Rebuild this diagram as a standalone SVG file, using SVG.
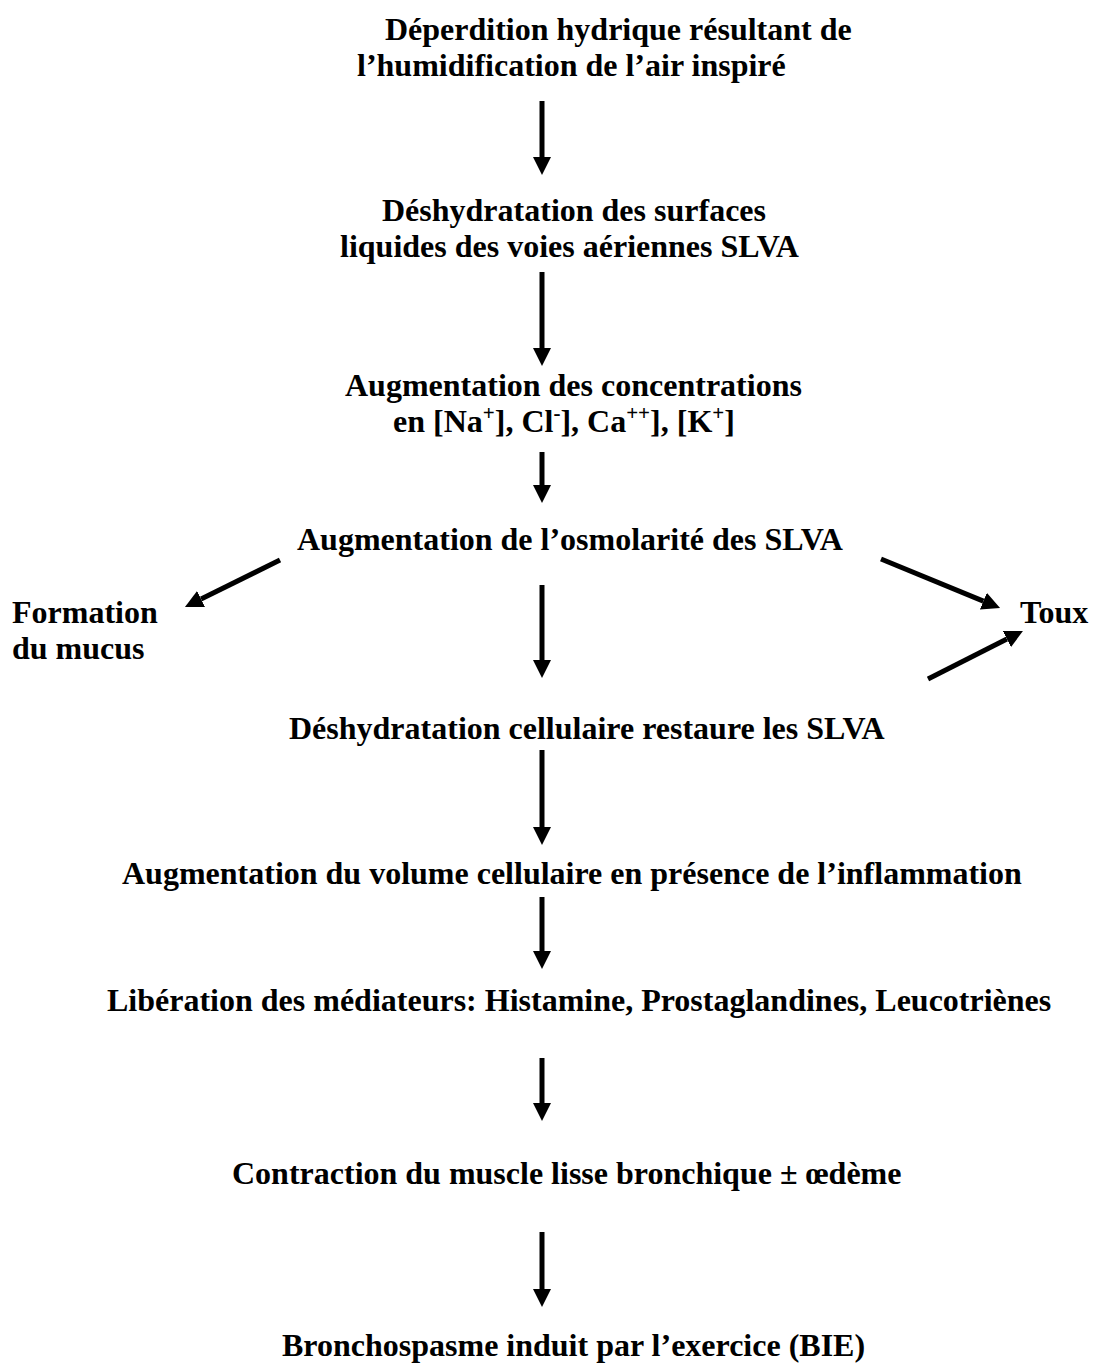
<svg xmlns="http://www.w3.org/2000/svg" width="1093" height="1372" viewBox="0 0 1093 1372">
<style>
text{font-family:"Liberation Serif","Times New Roman",serif;font-weight:bold;font-size:32px;fill:#000}
.sup{font-size:21px}
.c line{stroke:#000;stroke-width:5;marker-end:url(#ah)}
</style>
<defs>
<marker id="ah" markerUnits="userSpaceOnUse" markerWidth="18" markerHeight="18" refX="0" refY="9" orient="auto" viewBox="0 0 18 18">
<path d="M0,0 L18,9 L0,18 Z" fill="#000"/>
</marker>
</defs>
<rect width="1093" height="1372" fill="#fff"/>
<g id="n1"><text x="385" y="40">Déperdition hydrique résultant de</text><text x="357" y="76">l’humidification de l’air inspiré</text></g>
<g id="n2"><text x="382" y="221">Déshydratation des surfaces</text><text x="340" y="257">liquides des voies aériennes SLVA</text></g>
<g id="n3"><text x="345" y="396">Augmentation des concentrations</text><text x="393" y="432">en [Na<tspan class="sup" dy="-12">+</tspan><tspan dy="12">], Cl</tspan><tspan class="sup" dy="-12">-</tspan><tspan dy="12">], Ca</tspan><tspan class="sup" dy="-12">++</tspan><tspan dy="12">], [K</tspan><tspan class="sup" dy="-12">+</tspan><tspan dy="12">]</tspan></text></g>
<g id="n4"><text x="297" y="550">Augmentation de l’osmolarité des SLVA</text></g>
<g id="n5"><text x="12" y="623">Formation</text><text x="12" y="659">du mucus</text></g>
<g id="n6"><text x="1020" y="623">Toux</text></g>
<g id="n7"><text x="289" y="739">Déshydratation cellulaire restaure les SLVA</text></g>
<g id="n8"><text x="122" y="884">Augmentation du volume cellulaire en présence de l’inflammation</text></g>
<g id="n9"><text x="107" y="1011">Libération des médiateurs: Histamine, Prostaglandines, Leucotriènes</text></g>
<g id="n10"><text x="232" y="1184">Contraction du muscle lisse bronchique ± œdème</text></g>
<g id="n11"><text x="282" y="1356">Bronchospasme induit par l’exercice (BIE)</text></g>
<g id="connectors" class="c">
<line x1="542" y1="101" x2="542" y2="157"/>
<line x1="542" y1="272" x2="542" y2="348"/>
<line x1="542" y1="452" x2="542" y2="485"/>
<line x1="280" y1="560" x2="201.1" y2="599"/>
<line x1="881" y1="559" x2="983.4" y2="601.1"/>
<line x1="928" y1="679" x2="1006.9" y2="639.1"/>
<line x1="542" y1="585" x2="542" y2="660"/>
<line x1="542" y1="750" x2="542" y2="827"/>
<line x1="542" y1="897" x2="542" y2="951"/>
<line x1="542" y1="1058" x2="542" y2="1103"/>
<line x1="542" y1="1232" x2="542" y2="1289"/>
</g>
</svg>
